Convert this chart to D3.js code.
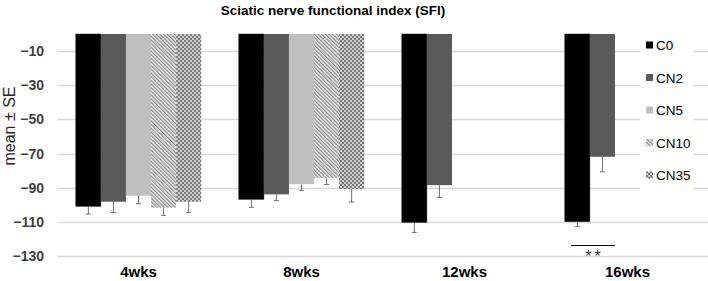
<!DOCTYPE html>
<html><head><meta charset="utf-8">
<script src="https://cdn.jsdelivr.net/npm/d3@7"></script>
<style>body{margin:0;background:#fff;} text{font-family:"Liberation Sans",Arial,sans-serif;}</style>
</head><body>
<svg id="c" width="708" height="281"></svg>
<script>
const categories = ["4wks","8wks","12wks","16wks"];
const series = ["C0","CN2","CN5","CN10","CN35"];
// mean values per series, per category (null = not measured)
const C0   = [-100.9, -96.8, -110.3, -109.9];
const CN2  = [-98.2,  -93.9, -88.5,  -71.9];
const CN5  = [-94.7,  -87.9, null,   null];
const CN10 = [-101.7, -84.4, null,   null];
const CN35 = [-98.2,  -90.8, null,   null];
// standard errors
const C0_se   = [4.5, 4.7, 5.9, 2.9];
const CN2_se  = [6.3, 3.7, 7.2, 8.8];
const CN5_se  = [4.7, 3.7, null, null];
const CN10_se = [4.5, 3.7, null, null];
const CN35_se = [6.3, 7.6, null, null];
const yTicks = [-10,-30,-50,-70,-90,-110,-130];

const values = {C0, CN2, CN5, CN10, CN35};
const errs = {C0:C0_se, CN2:CN2_se, CN5:CN5_se, CN10:CN10_se, CN35:CN35_se};

const svg = d3.select("#c");
const defs = svg.append("defs");
// diagonal hatch (downward diagonal)
const ph = defs.append("pattern").attr("id","hatch").attr("patternUnits","userSpaceOnUse")
  .attr("width",2.6).attr("height",2.6).attr("patternTransform","rotate(-45)");
ph.append("rect").attr("width",2.6).attr("height",2.6).attr("fill","#ececec");
ph.append("rect").attr("width",1.2).attr("height",2.6).attr("fill","#8a8a8a");
// checkerboard
const pc = defs.append("pattern").attr("id","check").attr("patternUnits","userSpaceOnUse")
  .attr("width",4).attr("height",4);
pc.append("rect").attr("width",4).attr("height",4).attr("fill","#cfcfcf");
pc.append("rect").attr("width",2).attr("height",2).attr("fill","#767676");
pc.append("rect").attr("x",2).attr("y",2).attr("width",2).attr("height",2).attr("fill","#767676");

const fills = {C0:"#000000", CN2:"#595959", CN5:"#bfbfbf", CN10:"url(#hatch)", CN35:"url(#check)"};

const mLeft = 57, mRight = 709, mTop = 34, mBottom = 256;
const x = d3.scaleBand().domain(categories).range([mLeft, mRight]).padding(0);
const y = d3.scaleLinear().domain([0, -130]).range([mTop, mBottom]);
const bw = x.bandwidth() / (series.length + 1.5);
const xs = d3.scaleBand().domain(series).range([-bw*series.length/2, bw*series.length/2]).padding(0);

// gridlines
svg.append("g").selectAll("line").data(yTicks).join("line")
  .attr("x1", mLeft).attr("x2", 708)
  .attr("y1", d => Math.round(y(d))+0.5).attr("y2", d => Math.round(y(d))+0.5)
  .attr("stroke", "#d9d9d9").attr("stroke-width", 1.3);

// y axis labels
const yAxis = d3.axisLeft(y).tickValues(yTicks).tickSize(0).tickPadding(0);
const ga = svg.append("g").attr("transform", `translate(44,0)`).call(yAxis);
ga.select(".domain").remove();
ga.selectAll("text").attr("font-size", 14).attr("font-weight","bold").attr("fill","#404040")
  .style("font-family",'"Liberation Sans",Arial,sans-serif');

// x axis labels
const xAxis = d3.axisBottom(x).tickSize(0).tickPadding(0);
const gx = svg.append("g").attr("transform", `translate(0,266)`).call(xAxis);
gx.select(".domain").remove();
gx.selectAll("text").attr("font-size", 15).attr("font-weight","bold").attr("fill","#000")
  .style("font-family",'"Liberation Sans",Arial,sans-serif');

// bars
const bars = [];
series.forEach(s => categories.forEach((c,i) => {
  if (values[s][i] !== null) bars.push({s, c, v: values[s][i], e: errs[s][i]});
}));
const cx = d => x(d.c) + x.bandwidth()/2 + xs(d.s);
svg.append("g").selectAll("rect").data(bars).join("rect")
  .attr("x", d => cx(d)).attr("width", xs.bandwidth())
  .attr("y", y(0)).attr("height", d => y(d.v) - y(0))
  .attr("fill", d => fills[d.s])
  .attr("stroke", d => d.s === "C0" ? "#1a1a1a" : "none").attr("stroke-width", 0.5);

// error bars (downward only)
const eg = svg.append("g").attr("stroke", "#707070").attr("stroke-width", 1);
eg.selectAll("line.v").data(bars).join("line").attr("class","v")
  .attr("x1", d => cx(d) + xs.bandwidth()/2).attr("x2", d => cx(d) + xs.bandwidth()/2)
  .attr("y1", d => y(d.v)).attr("y2", d => y(d.v - d.e));
eg.selectAll("line.c").data(bars).join("line").attr("class","c")
  .attr("x1", d => cx(d) + xs.bandwidth()/2 - 2.5).attr("x2", d => cx(d) + xs.bandwidth()/2 + 2.5)
  .attr("y1", d => y(d.v - d.e)).attr("y2", d => y(d.v - d.e));

// significance marker at 16wks (C0 vs CN2)
const sx1 = x("16wks") + x.bandwidth()/2 + xs("C0") + xs.bandwidth()*0.25;
const sx2 = x("16wks") + x.bandwidth()/2 + xs("CN2") + xs.bandwidth();
svg.append("line").attr("x1", sx1).attr("x2", sx2).attr("y1", 245.5).attr("y2", 245.5)
  .attr("stroke", "#000").attr("stroke-width", 1.2);
svg.append("text").attr("x", (sx1+sx2)/2 + 1.5).attr("y", 261.5).attr("text-anchor","middle")
  .attr("font-size", 16).attr("fill","#333").attr("letter-spacing", 3).text("**");

// title
svg.append("text").attr("x", 333).attr("y", 15).attr("text-anchor","middle")
  .attr("font-size", 13.5).attr("font-weight","bold").attr("fill","#000")
  .text("Sciatic nerve functional index (SFI)");

// y title
svg.append("text").attr("transform", `translate(15,126) rotate(-90)`)
  .attr("text-anchor","middle").attr("font-size", 16).attr("fill","#262626").text("mean ± SE");

// legend
const lg = svg.append("g");
lg.append("rect").attr("x", 640).attr("y", 28).attr("width", 53).attr("height", 166).attr("fill", "#fff");
const li = lg.selectAll("g").data(series).join("g")
  .attr("transform", (d,i) => `translate(646,${45 + i*32.5})`);
li.append("rect").attr("x", 0).attr("y", -3.5).attr("width", 7).attr("height", 7).attr("fill", d => fills[d]);
li.append("text").attr("x", 10).attr("y", 5).attr("font-size", 13.5).attr("fill","#000").text(d => d);
</script>
</body></html>
